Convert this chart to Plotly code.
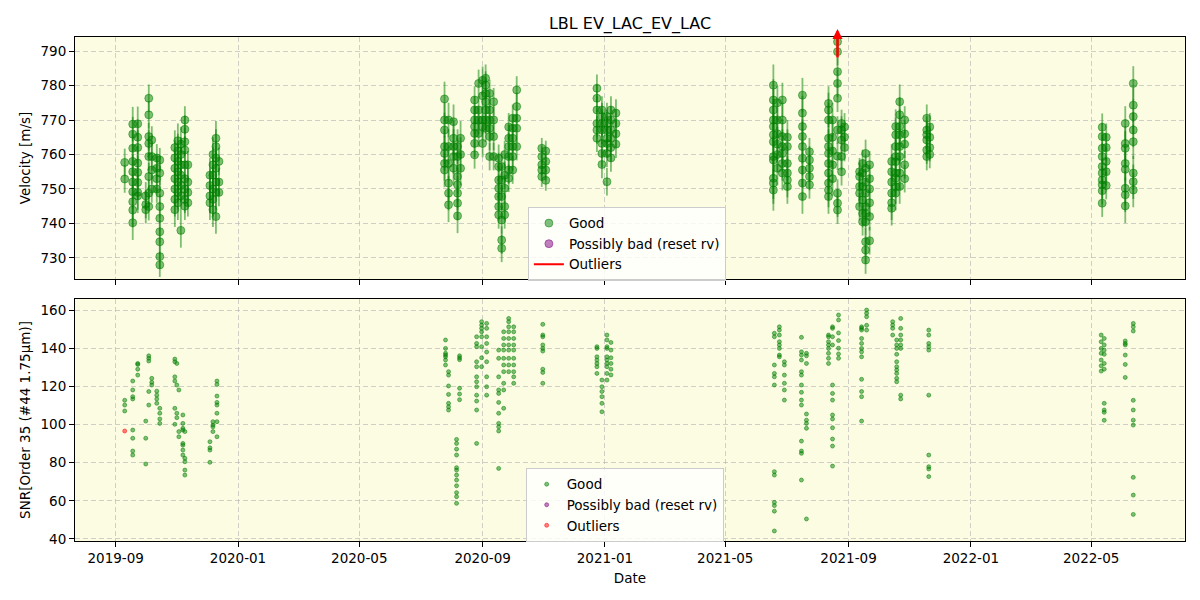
import plotly.graph_objects as go
from plotly.subplots import make_subplots

# ---------------- data ----------------
vel_dates = [
    "2019-09-10", "2019-09-18", "2019-09-23", "2019-10-01", "2019-10-04", "2019-10-07",
    "2019-10-12", "2019-10-15", "2019-10-30", "2019-11-02", "2019-11-05", "2019-11-09",
    "2019-11-12", "2019-12-04", "2019-12-07", "2019-12-10", "2019-12-13",
    "2020-07-25", "2020-07-29", "2020-08-03", "2020-08-07", "2020-08-10", "2020-08-24",
    "2020-08-28", "2020-09-01", "2020-09-04", "2020-09-08", "2020-09-12", "2020-09-17",
    "2020-09-20", "2020-09-23", "2020-09-27", "2020-10-01", "2020-10-05", "2020-10-30",
    "2020-11-03", "2020-12-24", "2020-12-29", "2021-01-03", "2021-01-07", "2021-01-12",
    "2021-06-18", "2021-06-22", "2021-06-27", "2021-07-02", "2021-07-17", "2021-07-24",
    "2021-08-12", "2021-08-16", "2021-08-21", "2021-08-25", "2021-08-28", "2021-09-12",
    "2021-09-15", "2021-09-18", "2021-09-22", "2021-10-14", "2021-10-18", "2021-10-22",
    "2021-10-27", "2021-11-18", "2021-11-21",
    "2022-05-12", "2022-05-16", "2022-06-04", "2022-06-12",
]
vel_values = [
    [757.7, 752.9],
    [768.8, 765.9, 761.8, 758.0, 755.0, 752.0, 749.2, 746.3, 743.9, 740.2],
    [768.9, 765.0, 762.0, 757.5, 754.8, 751.9, 749.0, 748.0],
    [748.0, 745.5, 744.0],
    [776.3, 771.5, 765.2, 763.2, 759.4, 753.6, 748.8, 744.9],
    [764.2, 759.4, 755.5, 750.0],
    [759.0, 756.0, 753.0, 750.0],
    [758.4, 754.6, 748.8, 744.9, 741.5, 737.6, 734.7, 730.4, 728.0],
    [762.0, 759.0, 756.0, 753.0, 750.0, 747.0, 744.0],
    [764.0, 761.0, 758.0, 755.0, 752.0, 749.0, 746.0],
    [763.0, 760.0, 757.0, 754.0, 751.0, 748.0, 738.0],
    [770.0, 767.3, 763.7, 761.3, 757.0, 753.0, 750.0, 747.0, 745.0],
    [757.0, 752.0, 749.0, 746.0],
    [754.0, 751.0, 748.0, 746.0],
    [760.0, 757.0, 754.0, 750.0, 747.0, 744.0],
    [764.7, 762.3, 759.0, 756.0, 752.0, 749.0, 742.0],
    [758.0, 752.0, 749.0],
    [776.1, 770.0, 767.1, 762.3, 760.3, 757.4, 755.5],
    [770.0, 762.3, 757.4, 751.7, 748.8, 745.4],
    [769.5, 764.7, 762.3, 759.4, 756.0],
    [762.3, 759.4, 753.6, 751.2, 748.8, 745.9, 742.2],
    [764.7, 760.0, 756.0],
    [775.8, 772.9, 770.0, 768.1, 766.1, 763.2, 759.9],
    [780.6, 772.9, 770.0, 766.1],
    [781.5, 777.0, 770.0, 768.1, 763.2],
    [782.1, 780.1, 777.7, 775.3, 772.9, 770.0, 767.6],
    [777.7, 772.9, 770.0, 767.6, 765.2, 759.4],
    [775.3, 770.0, 765.2, 759.4],
    [758.9, 756.5, 752.6, 750.2, 747.8, 744.9, 742.5],
    [756.5, 752.6, 747.8, 741.0, 735.2, 732.8],
    [760.0, 754.0, 750.2, 744.9, 742.5],
    [768.0, 764.7, 762.3, 759.4, 755.5, 753.1],
    [770.5, 767.6, 764.7, 762.3, 759.4, 755.5],
    [778.7, 773.9, 770.5, 767.6, 762.3],
    [761.8, 759.4, 757.0, 755.5, 753.6],
    [761.0, 758.0, 755.5, 752.5],
    [779.2, 776.3, 772.9, 769.0, 767.1, 764.7],
    [772.9, 771.0, 769.0, 767.1, 763.2, 760.3, 757.1],
    [771.0, 769.0, 767.1, 764.7, 763.2, 760.3, 752.1],
    [772.9, 770.0, 767.1, 764.7, 762.0, 759.0],
    [772.0, 769.0, 766.0, 763.0],
    [780.1, 775.8, 772.9, 770.0, 768.1, 765.7, 763.7, 759.4, 758.4, 753.1, 751.7, 749.7],
    [775.0, 770.0, 766.0, 763.0, 760.0, 756.0],
    [775.8, 770.0, 765.2, 762.3, 760.3, 757.4, 754.6],
    [765.0, 762.3, 757.4, 754.6, 752.6, 750.7],
    [777.2, 772.0, 768.1, 765.2, 762.3, 758.9, 755.5, 751.7, 747.8],
    [760.8, 758.4, 756.0, 753.6, 751.2],
    [774.8, 772.9, 770.0, 764.7, 762.3, 760.3, 757.4, 754.6, 751.7, 749.7, 747.8],
    [770.0, 765.0, 761.0, 757.0, 753.0],
    [792.7, 789.8, 784.0, 780.6, 776.3, 767.1, 759.5, 748.8, 745.9, 743.9],
    [769.0, 767.1, 764.2, 759.4, 755.0],
    [768.0, 765.0, 762.0],
    [755.0, 753.6, 750.7, 748.8, 744.9],
    [757.4, 754.6, 750.7, 746.8, 742.9, 740.5],
    [760.3, 756.0, 752.0, 748.8, 744.9, 742.9, 740.5, 734.7, 732.3, 729.4],
    [757.0, 753.0, 750.0, 746.0, 742.0, 735.0],
    [758.0, 755.0, 752.0, 748.8, 746.0, 744.4],
    [768.1, 765.7, 762.3, 759.4, 757.9, 754.6, 753.1, 750.7, 748.8],
    [775.3, 771.5, 768.1, 765.7, 762.3, 759.4, 754.6, 750.7],
    [770.0, 766.0, 763.0, 757.0, 753.0],
    [770.5, 767.1, 765.7, 764.2, 761.3, 759.4],
    [768.0, 765.0, 762.0, 760.0],
    [767.9, 765.2, 761.8, 759.4, 756.5, 754.6, 752.6, 751.2, 749.5, 745.9],
    [765.0, 762.0, 758.0, 755.0, 751.0],
    [769.0, 763.2, 761.8, 757.4, 755.7, 750.2, 748.3, 745.1],
    [780.6, 774.3, 771.0, 767.1, 763.7, 754.6, 752.1, 749.7],
]
vel_errors = [
    4, 5, 5, 4, 4, 4, 4, 3.5, 5, 5, 5, 4, 4, 5, 5, 5, 4,
    5, 5, 5, 5, 5, 4, 4, 4, 4, 4, 4, 4, 4, 4, 4, 4, 4, 3, 3, 4, 4, 4, 4, 4,
    6, 5, 5, 5, 5, 4, 5, 5, 4, 4, 4, 4, 4, 4, 4, 5, 5, 5, 4, 4, 4,
    4, 4, 5, 5,
]
vel_outlier_dates = ["2021-08-21"]

snr_dates = [
    "2019-09-10", "2019-09-18", "2019-09-23", "2019-10-01", "2019-10-04", "2019-10-07",
    "2019-10-12", "2019-10-15", "2019-10-30", "2019-11-01", "2019-11-03", "2019-11-07",
    "2019-11-09", "2019-12-04", "2019-12-07", "2019-12-11",
    "2020-07-26", "2020-07-29", "2020-08-06", "2020-08-09", "2020-08-26", "2020-08-31",
    "2020-09-05", "2020-09-17", "2020-09-22", "2020-09-27", "2020-10-02", "2020-10-31",
    "2020-12-24", "2020-12-29", "2021-01-03", "2021-01-07",
    "2021-06-19", "2021-06-24", "2021-06-29", "2021-07-16", "2021-07-21", "2021-08-12",
    "2021-08-16", "2021-08-22", "2021-09-14", "2021-09-19", "2021-10-15", "2021-10-19",
    "2021-10-23", "2021-11-20",
    "2022-05-11", "2022-05-14", "2022-06-04", "2022-06-12",
]
snr_values = [
    [112.7, 110.2, 107.1],
    [122.8, 118.1, 114.6, 113.4, 97.1, 92.8, 86.1, 84.0],
    [125.9, 129.0, 131.5, 132.0],
    [101.8, 92.8, 79.3],
    [136.0, 134.7, 133.3, 117.3, 110.2],
    [124.2, 122.1, 120.7],
    [117.5, 115.4, 113.4, 111.1],
    [108.5, 105.9, 102.9, 100.6],
    [134.3, 132.9, 125.0, 122.8, 108.5, 100.1],
    [132.0, 120.7, 105.9, 103.6],
    [118.1, 96.3, 93.6],
    [105.0, 100.6, 98.0, 97.1, 90.1, 89.2, 86.6, 84.0],
    [96.3, 82.3, 80.5, 76.1, 73.5],
    [91.0, 87.8, 86.6, 80.2],
    [101.5, 99.7, 98.8, 96.3],
    [122.8, 121.0, 114.9, 111.6, 110.2, 105.9, 101.5, 93.6],
    [144.3, 139.9, 137.3, 136.4, 135.5, 133.8, 131.2],
    [127.7, 125.9, 120.2, 115.8, 111.1, 109.3, 107.6],
    [92.2, 90.1, 87.1, 84.0, 77.4, 76.1, 73.5, 70.9, 67.9, 64.3, 62.2, 58.7],
    [136.0, 135.0, 134.0, 119.0, 116.0, 113.0],
    [146.0, 142.5, 140.8, 132.9, 130.3, 125.0, 122.4, 119.8, 115.4, 112.3, 107.6, 90.1],
    [153.9, 152.1, 150.4, 148.6, 146.0, 140.8, 135.0, 130.3],
    [153.0, 150.4, 146.0, 142.5, 138.0, 132.9, 125.0, 119.8, 115.4],
    [139.0, 134.7, 125.0, 118.1, 116.3, 111.6, 105.9, 100.6, 98.8, 96.6, 77.0],
    [148.6, 145.1, 141.7, 139.0, 134.7, 131.2, 127.7, 121.6, 118.1, 108.5],
    [155.6, 153.9, 151.2, 148.6, 145.1, 141.7, 139.0, 134.7, 131.2, 127.7],
    [151.2, 148.6, 145.1, 141.7, 139.0, 134.7, 131.2, 127.7, 125.0, 121.6],
    [152.5, 146.9, 146.0, 141.7, 139.9, 138.5, 129.0, 127.3, 121.6],
    [140.8, 139.9, 135.5, 133.8, 132.0, 130.3, 126.8],
    [123.3, 119.8, 117.3, 114.6, 111.1, 106.7],
    [146.9, 144.3, 140.8, 139.9, 135.5, 133.8, 132.0, 130.3, 126.8, 123.3],
    [143.0, 139.0, 135.0, 132.0, 129.0, 126.0],
    [147.8, 146.0, 131.2, 126.8, 125.0, 120.7, 75.3, 73.5, 59.2, 57.5, 54.6, 44.2],
    [151.2, 149.5, 146.9, 143.4, 141.7, 139.9, 136.4, 135.5],
    [132.9, 131.2, 125.9, 121.6, 118.1, 112.8],
    [145.7, 138.1, 136.4, 133.8, 127.7, 125.9, 120.7, 116.9, 112.8, 110.2, 91.3, 86.1, 84.9, 70.9],
    [137.3, 136.0, 132.0, 105.5, 102.3, 100.6, 98.0, 50.5],
    [146.9, 146.0, 143.4, 141.7, 139.9, 137.3, 134.7, 132.0],
    [150.4, 151.2, 146.0, 141.7, 120.7, 116.3, 112.8, 105.0, 102.9, 98.3, 92.4, 88.7, 78.2],
    [157.4, 154.8, 148.0, 144.0, 140.0, 137.0, 134.7],
    [151.2, 150.4, 149.5, 145.1, 142.5, 139.9, 138.1, 135.5, 123.7, 117.3, 114.6, 101.8],
    [160.0, 158.3, 156.5, 152.0, 149.5],
    [153.9, 152.1, 150.4, 146.9],
    [144.3, 141.7, 139.9, 136.8, 132.9, 130.3, 128.6, 126.8, 124.2, 122.4],
    [155.6, 150.4, 146.9, 144.3, 141.7, 139.9, 115.4, 113.4],
    [149.5, 146.9, 142.5, 140.8, 139.0, 115.4, 84.0, 77.9, 76.7, 72.7],
    [146.9, 143.4, 139.9, 137.3, 133.8, 130.8, 128.0],
    [145.1, 141.7, 139.0, 136.8, 132.0, 129.0, 111.1, 107.6, 106.4, 102.2],
    [143.8, 142.5, 141.7, 136.4, 131.5, 124.7],
    [153.0, 151.2, 149.0, 112.7, 107.6, 102.3, 99.7, 72.3, 63.0, 52.9],
]
snr_outlier_dates = ["2019-09-10"]
snr_outlier_values = [96.6]

# ---------------- expand per-night lists ----------------
vx, vy, ve = [], [], []
for d, vals, e in zip(vel_dates, vel_values, vel_errors):
    for v in vals:
        vx.append(d); vy.append(v); ve.append(e)
sx, sy = [], []
for d, vals in zip(snr_dates, snr_values):
    for v in vals:
        sx.append(d); sy.append(v)

GREEN = "rgba(0,128,0,0.5)"
PURPLE = "rgba(128,0,128,0.5)"
RED = "rgba(255,0,0,0.5)"
FONT = "DejaVu Sans"

fig = make_subplots(rows=2, cols=1, shared_xaxes=True, vertical_spacing=0.04)

# top panel
fig.add_trace(go.Scatter(
    x=vx, y=vy, mode="markers", name="Good", legend="legend",
    marker=dict(color=GREEN, size=8, line=dict(color=GREEN, width=1)),
    error_y=dict(type="data", array=ve, color=GREEN, thickness=1.8, width=0),
), row=1, col=1)
fig.add_trace(go.Scatter(
    x=[None], y=[None], mode="markers", name="Possibly bad (reset rv)", legend="legend",
    marker=dict(color=PURPLE, size=8, line=dict(color=PURPLE, width=1)),
), row=1, col=1)
fig.add_trace(go.Scatter(
    x=[None], y=[None], mode="lines", name="Outliers", legend="legend",
    line=dict(color="red", width=2),
), row=1, col=1)

# bottom panel
fig.add_trace(go.Scatter(
    x=sx, y=sy, mode="markers", name="Good", legend="legend2",
    marker=dict(color=GREEN, size=4, line=dict(color=GREEN, width=1)),
), row=2, col=1)
fig.add_trace(go.Scatter(
    x=[None], y=[None], mode="markers", name="Possibly bad (reset rv)", legend="legend2",
    marker=dict(color=PURPLE, size=4, line=dict(color=PURPLE, width=1)),
), row=2, col=1)
fig.add_trace(go.Scatter(
    x=snr_outlier_dates, y=snr_outlier_values, mode="markers", name="Outliers", legend="legend2",
    marker=dict(color=RED, size=4, line=dict(color=RED, width=1)),
), row=2, col=1)

# outlier arrow (value above the plotted range)
for d in vel_outlier_dates:
    fig.add_annotation(
        x=d, xref="x", y=1.016, yref="paper", text="", showarrow=True,
        ax=0, ay=30, axref="pixel", ayref="pixel",
        arrowhead=2, arrowsize=0.8, arrowwidth=2.5, arrowcolor="red",
    )

grid = dict(showgrid=True, gridcolor="rgba(176,176,176,0.6)", griddash="5px,3px", gridwidth=1)
axis_common = dict(showline=True, linecolor="black", linewidth=1, mirror=True,
                   ticks="outside", ticklen=5, tickcolor="black", zeroline=False,
                   tickfont=dict(family=FONT, size=13.5, color="black"), **grid)

xrange = ["2019-07-22 10:00", "2022-08-02 14:00"]
fig.update_xaxes(range=xrange, tick0="2019-01-01", dtick="M4", tickformat="%Y-%m", **axis_common)
fig.update_xaxes(showticklabels=False, row=1, col=1)
fig.update_xaxes(title=dict(text="Date", font=dict(family=FONT, size=13.5, color="black"), standoff=8),
                 row=2, col=1)
fig.update_yaxes(range=[723.9, 794.06], tickvals=[730, 740, 750, 760, 770, 780, 790],
                 domain=[0.5198, 1.0],
                 title=dict(text="Velocity [m/s]", font=dict(family=FONT, size=13.5, color="black"), standoff=6),
                 row=1, col=1, **axis_common)
fig.update_yaxes(range=[38.95, 165.8], tickvals=[40, 60, 80, 100, 120, 140, 160],
                 domain=[0.0, 0.4802],
                 title=dict(text="SNR[Order 35 (#44 1.75μm)]", font=dict(family=FONT, size=13.5, color="black"), standoff=6),
                 row=2, col=1, **axis_common)

legend_style = dict(bgcolor="rgba(255,255,255,0.8)", bordercolor="#cccccc", borderwidth=1,
                    font=dict(family=FONT, size=13.5, color="black"),
                    xanchor="left", yanchor="top", traceorder="normal", itemwidth=30)

fig.update_layout(
    width=1200, height=600,
    margin=dict(l=75, r=15, t=37, b=59),
    paper_bgcolor="white", plot_bgcolor="rgb(252,252,227)",
    font=dict(family=FONT, size=13.5, color="black"),
    title=dict(text="LBL EV_LAC_EV_LAC", x=0.5, xref="paper", y=1 - 23 / 600, yref="container",
               xanchor="center", yanchor="middle", font=dict(family=FONT, size=16, color="black")),
    legend=dict(x=0.408, y=0.663, **legend_style),
    legend2=dict(x=0.406, y=0.145, **legend_style),
    showlegend=True,
)

fig.write_html("out.html")
